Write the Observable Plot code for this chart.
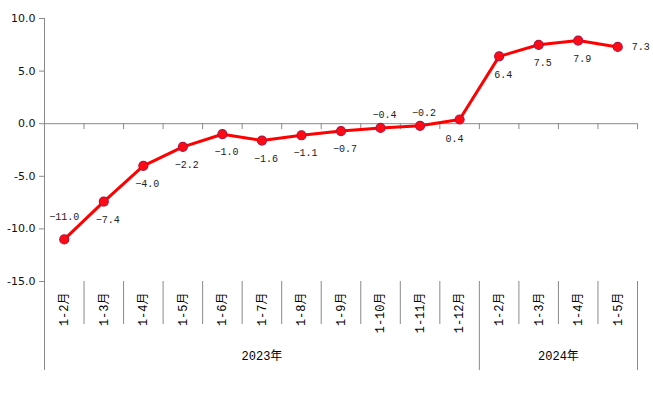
<!DOCTYPE html>
<html><head><meta charset="utf-8">
<script src="https://cdn.jsdelivr.net/npm/d3@7"></script>
<script src="https://cdn.jsdelivr.net/npm/@observablehq/plot@0.6"></script>
<style>body{margin:0;background:#fff}</style>
</head><body><div id="chart"></div>
<script>
// ---- data ----
const months = ["1-2月","1-3月","1-4月","1-5月","1-6月","1-7月","1-8月","1-9月","1-10月","1-11月","1-12月","1-2月","1-3月","1-4月","1-5月"];
const years = ["2023年","2024年"];
const groupSizes = [11, 4];
const values = [-11.0,-7.4,-4.0,-2.2,-1.0,-1.6,-1.1,-0.7,-0.4,-0.2,0.4,6.4,7.5,7.9,7.3];
const yTicks = [10,5,0,-5,-10,-15];
const labelPlacement = ["above-far","below","below","below","below","below","below","below","above","above","below-left","below","below","below","right"];

// ---- derived ----
const placements = {
  "above": {dx: 4, dy: -13},
  "above-far": {dx: 0, dy: -23},
  "below": {dx: 4, dy: 18},
  "below-left": {dx: -5, dy: 19},
  "right": {dx: 23, dy: 0}
};
const data = values.map((v, i) => ({i, month: months[i], value: v, place: labelPlacement[i]}));
const idx = d3.range(months.length);
const cum = d3.cumsum(groupSizes);
const groupBounds = [-0.5, ...Array.from(cum, c => c - 0.5)];
const groupCenters = groupSizes.map((s, g) => (g === 0 ? 0 : cum[g-1]) + s / 2 - 0.5);
const boundaries = idx.map(i => i + 0.5);
const shortBounds = boundaries.filter(b => !groupBounds.includes(b));

const gray = "#8a8a8a";
const monoCJK = "'Liberation Mono','Noto Sans CJK SC',monospace";
const tickShape = {draw(ctx, l) { ctx.moveTo(0, 0); ctx.lineTo(0, -l); }};

const labelMarks = Object.entries(placements).map(([name, off]) =>
  Plot.text(data.filter(d => d.place === name), {
    x: "i", y: "value",
    text: d => d.value.toFixed(1).replace("-", "\u2212"),
    dx: off.dx, dy: off.dy,
    fontFamily: "'Liberation Mono',monospace", fontSize: 10, fill: "#222"
  })
);

const chart = Plot.plot({
  width: 653, height: 395,
  marginLeft: 44, marginRight: 16, marginTop: 18, marginBottom: 114,
  x: {domain: [-0.5, months.length - 0.5], axis: null},
  y: {domain: [-15, 10], axis: null},
  style: {background: "white", overflow: "visible"},
  marks: [
    Plot.ruleY([0], {stroke: gray}),
    Plot.ruleX([-0.5], {stroke: gray}),
    Plot.vector(boundaries, {x: d => d, y: 0, length: 5, rotate: 180, anchor: "start", shape: tickShape, stroke: gray, strokeWidth: 1}),
    Plot.axisY(yTicks, {anchor: "left", tickSize: 5, tickPadding: 4, tickFormat: d => d.toFixed(1), fontFamily: "'DejaVu Sans',sans-serif", fontSize: 11, stroke: gray, fill: "#111", label: null}),
    Plot.axisX(shortBounds, {anchor: "bottom", tickSize: 43, tickFormat: () => "", stroke: gray, label: null}),
    Plot.axisX(groupBounds, {anchor: "bottom", tickSize: 89, tickFormat: () => "", stroke: gray, label: null}),
    Plot.axisX(idx, {anchor: "bottom", tickSize: 0, tickPadding: 11, tickRotate: -90, tickFormat: i => months[i], fontFamily: monoCJK, fontSize: 12, fill: "#000", label: null}),
    Plot.axisX(groupCenters, {anchor: "bottom", tickSize: 0, tickPadding: 70, tickFormat: (d, k) => years[k], fontFamily: monoCJK, fontSize: 12, fill: "#000", label: null}),
    Plot.line(data, {x: "i", y: "value", stroke: "#ff0000", strokeWidth: 3}),
    Plot.dot(data, {x: "i", y: "value", r: 4.5, fill: "#ff0a14", stroke: "#b0143c", strokeWidth: 1.2}),
    ...labelMarks
  ]
});
document.getElementById("chart").append(chart);
</script>
</body></html>
